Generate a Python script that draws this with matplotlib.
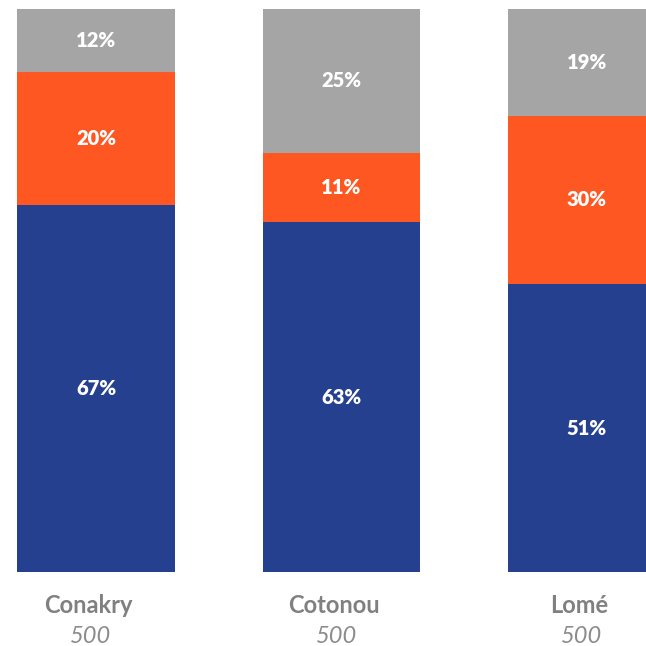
import numpy as np
import matplotlib.pyplot as plt
from matplotlib.transforms import blended_transform_factory

cities = ['Conakry', 'Cotonou', 'Lomé']
sample_sizes = ['500', '500', '500']

# segment shares (bottom to top)
blue_vals = [65.2, 62.2, 51.2]
orange_vals = [23.6, 12.2, 29.8]
grey_vals = [11.2, 25.6, 19.0]

# printed labels
blue_labels = ['67%', '63%', '51%']
orange_labels = ['20%', '11%', '30%']
grey_labels = ['12%', '25%', '19%']

colors = ['#25408F', '#FF5722', '#A5A5A5']

fig = plt.figure(figsize=(6.46, 6.46), dpi=100)
ax = fig.add_axes([0, 0.1138, 1, 0.873])

x = np.arange(len(cities))
series = [blue_vals, orange_vals, grey_vals]
labels = [blue_labels, orange_labels, grey_labels]
totals = np.sum(series, axis=0)

bottom = np.zeros(len(cities))
for vals, labs, col in zip(series, labels, colors):
    share = np.array(vals) / totals * 100
    ax.bar(x, share, bottom=bottom, width=0.64, color=col, linewidth=0)
    for xi, b, s, lab in zip(x, bottom, share, labs):
        ax.text(xi, b + s / 2, lab, ha='center', va='center', color='white',
                fontsize=14.5, fontweight='heavy', family='Lato')
    bottom += share

ax.set_xlim(-0.391, 2.241)
ax.set_ylim(0, 100)
ax.axis('off')

trans = blended_transform_factory(ax.transData, ax.transAxes)
for xi, city, n in zip(x, cities, sample_sizes):
    ax.text(xi - 0.03, -0.058, city, transform=trans, ha='center', va='center',
            color='#808080', fontsize=17, fontweight='bold', family='Lato')
    ax.text(xi - 0.02, -0.113, n, transform=trans, ha='center', va='center',
            color='#8c8c8c', fontsize=17, fontstyle='italic', fontweight='normal',
            family='Lato')

fig.savefig('out.png', dpi=100)
